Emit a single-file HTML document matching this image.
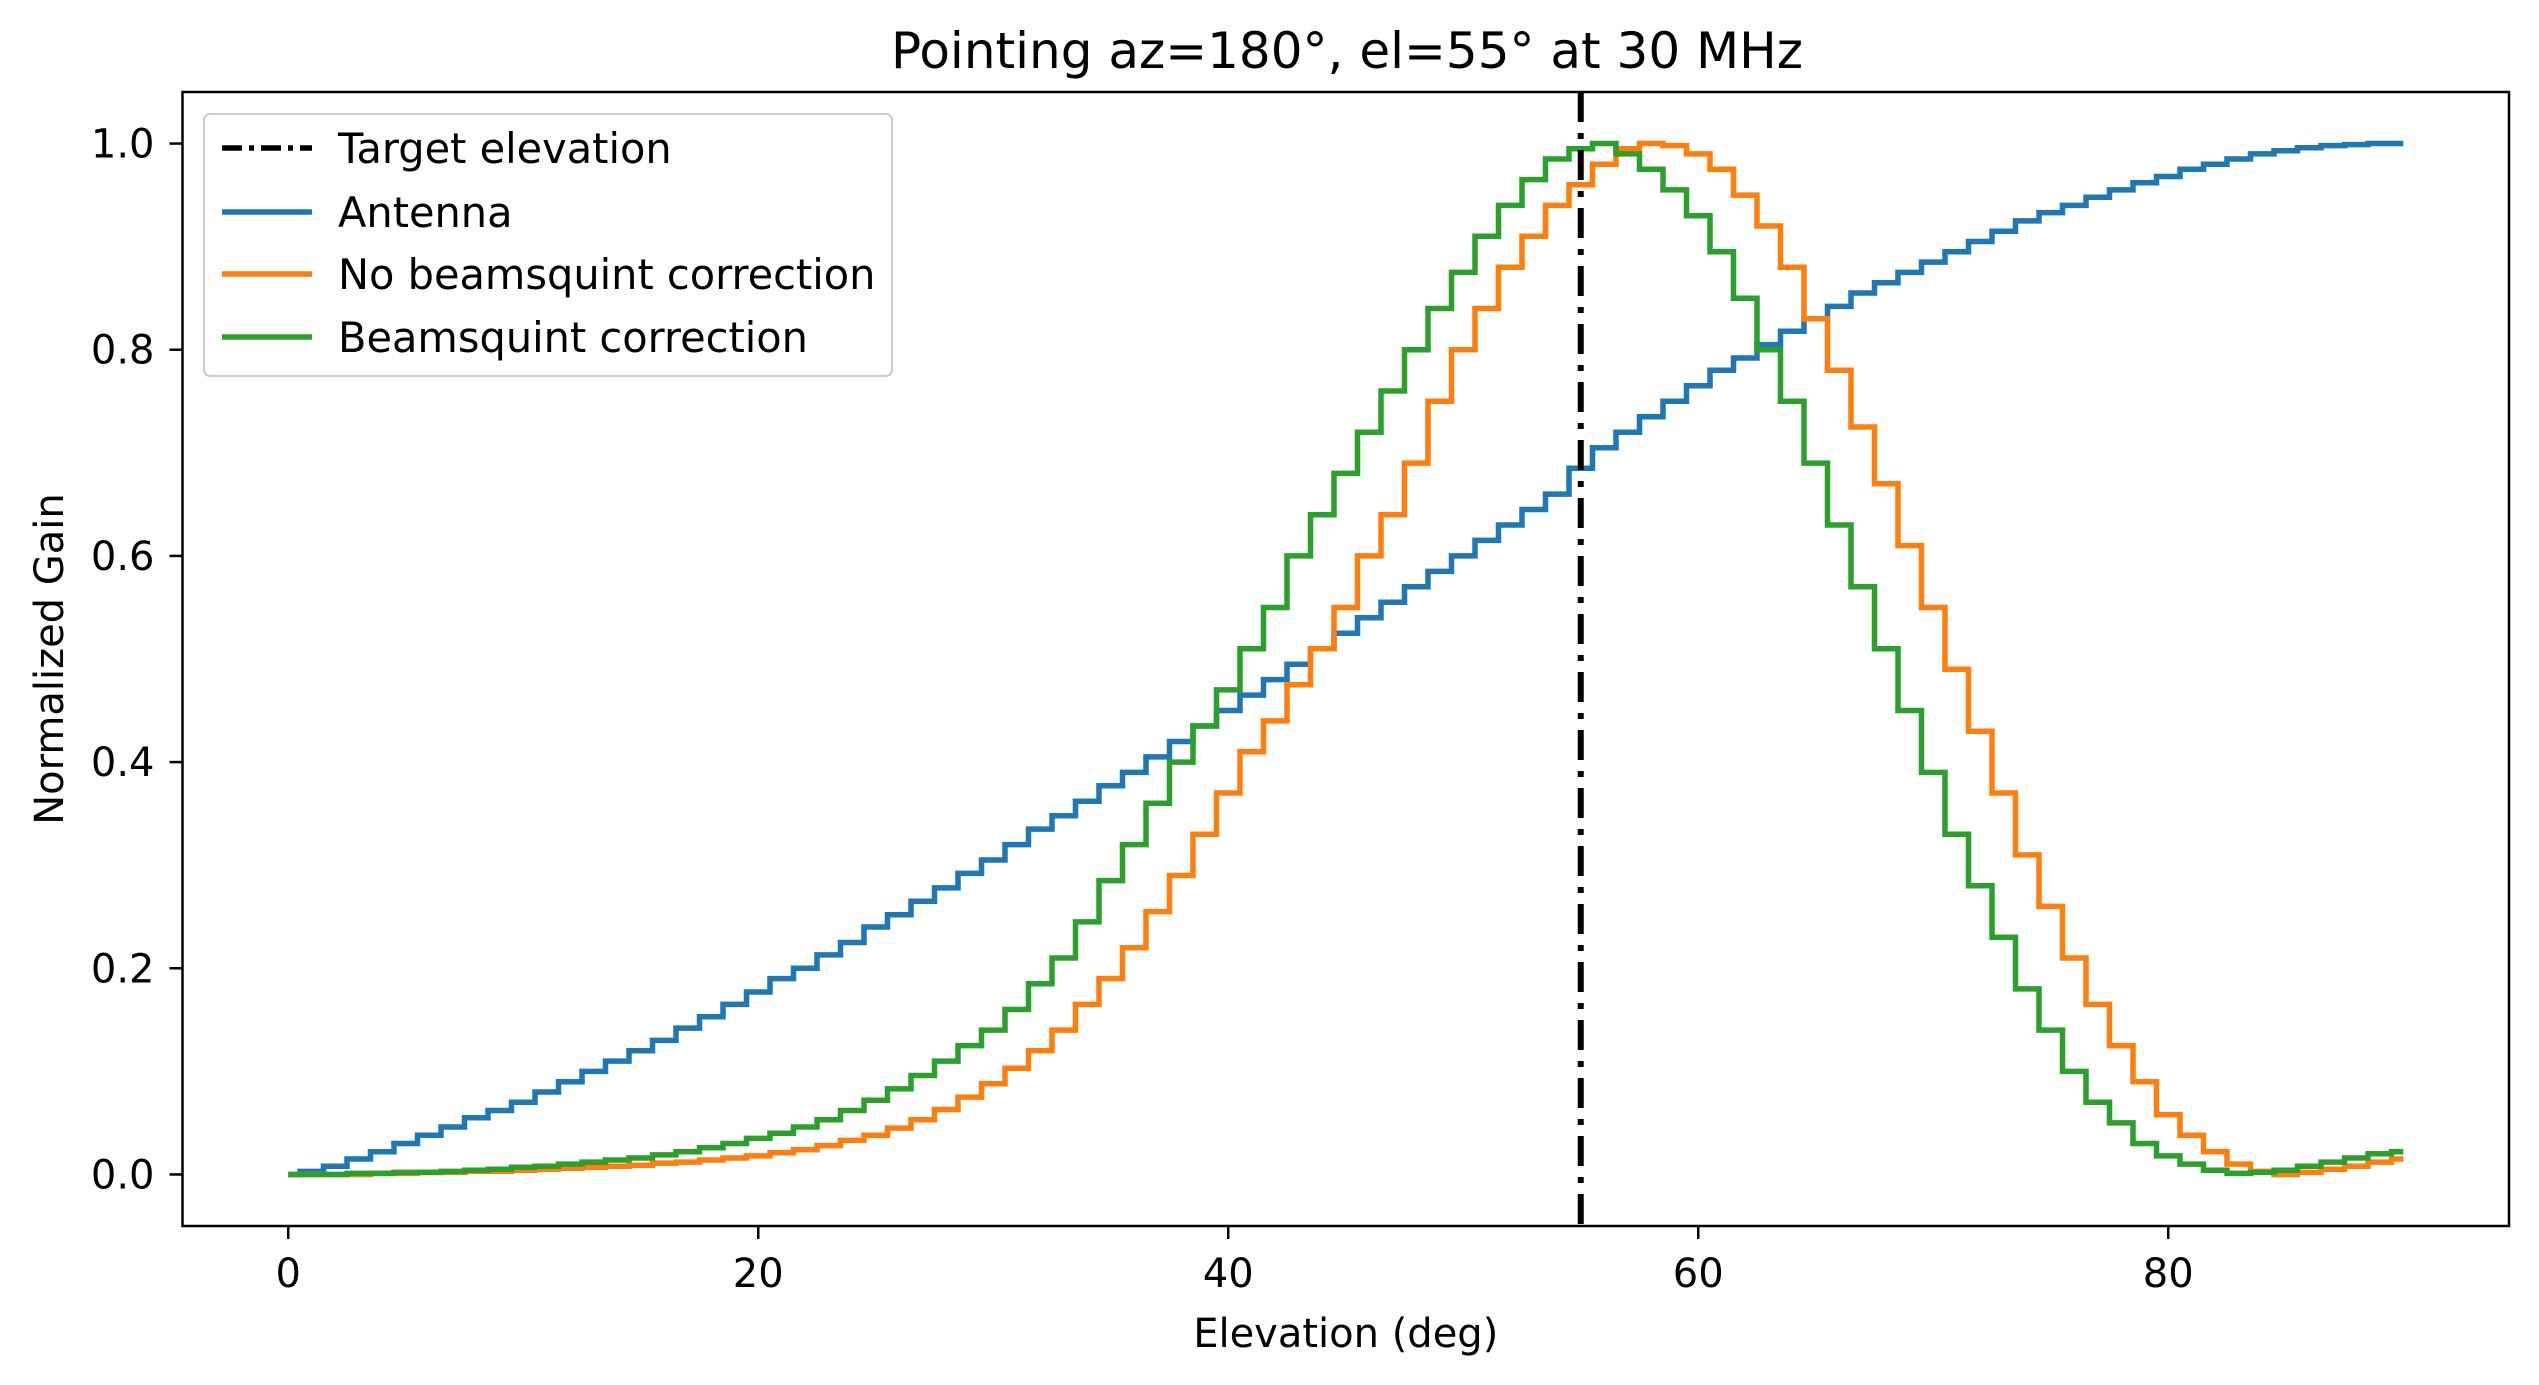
<!DOCTYPE html>
<html><head><meta charset="utf-8"><style>
html,body{margin:0;padding:0;background:#fff}
svg{display:block;font-family:"DejaVu Sans","Liberation Sans",sans-serif}
</style></head><body>
<svg id="chart" width="2539" height="1385" viewBox="0 0 2539 1385">
<rect width="2539" height="1385" fill="#fff"/>
<text x="1347" y="68" font-size="50" text-anchor="middle">Pointing az=180°, el=55° at 30 MHz</text>
<g id="plot"></g>
</svg>
<script>
const xTicks=[0,20,40,60,80];
const yTicks=[0.0,0.2,0.4,0.6,0.8,1.0];
const targetElevation=55;
const antenna=[0,0.003,0.008,0.015,0.022,0.03,0.038,0.046,0.055,0.062,0.07,0.08,0.09,0.1,0.11,0.12,0.13,0.142,0.153,0.165,0.177,0.19,0.2,0.213,0.225,0.24,0.252,0.265,0.278,0.292,0.305,0.32,0.335,0.348,0.362,0.377,0.39,0.405,0.42,0.435,0.45,0.465,0.48,0.495,0.51,0.525,0.54,0.555,0.57,0.585,0.6,0.615,0.63,0.645,0.66,0.685,0.705,0.72,0.735,0.75,0.765,0.78,0.792,0.805,0.818,0.83,0.842,0.855,0.865,0.875,0.885,0.895,0.905,0.915,0.925,0.933,0.94,0.948,0.955,0.962,0.968,0.975,0.98,0.985,0.99,0.993,0.996,0.998,0.999,1.0,1.0];
const noCorrection=[0,0,0,0,0.001,0.001,0.002,0.002,0.003,0.003,0.004,0.005,0.006,0.007,0.008,0.009,0.011,0.012,0.014,0.016,0.018,0.021,0.024,0.028,0.033,0.038,0.045,0.053,0.063,0.075,0.088,0.103,0.12,0.14,0.165,0.19,0.22,0.255,0.29,0.33,0.37,0.41,0.44,0.475,0.51,0.55,0.6,0.64,0.69,0.75,0.8,0.84,0.88,0.91,0.94,0.96,0.98,0.995,1.0,0.998,0.99,0.975,0.95,0.92,0.88,0.83,0.78,0.725,0.67,0.61,0.55,0.49,0.43,0.37,0.31,0.26,0.21,0.165,0.125,0.09,0.058,0.038,0.022,0.01,0.003,0.0,0.002,0.005,0.008,0.012,0.015];
const withCorrection=[0,0,0,0.001,0.001,0.002,0.002,0.003,0.004,0.005,0.007,0.008,0.01,0.012,0.014,0.016,0.019,0.022,0.026,0.03,0.035,0.04,0.046,0.053,0.062,0.072,0.083,0.096,0.11,0.125,0.14,0.16,0.185,0.21,0.245,0.285,0.32,0.36,0.4,0.435,0.47,0.51,0.55,0.6,0.64,0.68,0.72,0.76,0.8,0.84,0.875,0.91,0.94,0.965,0.985,0.995,1.0,0.99,0.975,0.955,0.93,0.895,0.85,0.8,0.75,0.69,0.63,0.57,0.51,0.45,0.39,0.33,0.28,0.23,0.18,0.14,0.1,0.07,0.05,0.03,0.018,0.01,0.004,0.001,0.002,0.004,0.008,0.012,0.016,0.02,0.022];

const L=182.5,R=2509,T=92,B=1226;
const xs=v=>L+(v+4.5)/99*(R-L);
const ys=v=>B-(v+0.05)/1.1*(B-T);
const NS="http://www.w3.org/2000/svg";
const g=document.getElementById('plot');
function mk(tag,attrs,parent){const e=document.createElementNS(NS,tag);for(const k in attrs)e.setAttribute(k,attrs[k]);(parent||g).appendChild(e);return e;}
function stepPath(arr){let d='';arr.forEach((v,i)=>{const x0=xs(i-0.5<0?0:i-0.5),x1=xs(i+0.5>arr.length-1?arr.length-1:i+0.5),y=ys(v);d+=(i===0?'M':'L')+x0.toFixed(1)+','+y.toFixed(1)+'L'+x1.toFixed(1)+','+y.toFixed(1);});return d;}

const blue=mk('path',{d:stepPath(antenna),fill:'none',stroke:'#1f77b4','stroke-width':5.5});


const orange=mk('path',{d:stepPath(noCorrection),fill:'none',stroke:'#ff7f0e','stroke-width':5.5});


const green=mk('path',{d:stepPath(withCorrection),fill:'none',stroke:'#2ca02c','stroke-width':5.5});


const vl=mk('line',{x1:xs(targetElevation),x2:xs(targetElevation),y1:T,y2:B,stroke:'#000','stroke-width':6,'stroke-dasharray':'30 11 6 11'});



const frame=mk('rect',{x:L,y:T,width:R-L,height:B-T,fill:'none',stroke:'#000','stroke-width':2.5});



xTicks.forEach(t=>{
  const tk=mk('line',{x1:xs(t),x2:xs(t),y1:B,y2:B+13,stroke:'#000','stroke-width':2.5});
  
  
  const tx=mk('text',{x:xs(t),y:1287,'font-size':40,'text-anchor':'middle'});
  tx.textContent=String(t);
  
  
});
yTicks.forEach(t=>{
  const tk=mk('line',{x1:L-13,x2:L,y1:ys(t),y2:ys(t),stroke:'#000','stroke-width':2.5});
  
  
  const tx=mk('text',{x:L-28,y:ys(t)+14,'font-size':40,'text-anchor':'end'});
  tx.textContent=t.toFixed(1);
  
  
});
const xl=mk('text',{x:(L+R)/2,y:1347,'font-size':40,'text-anchor':'middle'});
xl.textContent='Elevation (deg)';


const yl=mk('text',{x:0,y:0,'font-size':40,'text-anchor':'middle',transform:'translate(63,659) rotate(-90)'});
yl.textContent='Normalized Gain';



const lg=mk('g',{});


mk('rect',{x:204,y:114,width:688,height:262,rx:6,fill:'#fff','fill-opacity':0.8,stroke:'#ccc','stroke-width':2},lg);
const entries=[['Target elevation','#000','30 11 6 11'],['Antenna','#1f77b4',''],['No beamsquint correction','#ff7f0e',''],['Beamsquint correction','#2ca02c','']];
const ey=[148,212,274,337];
entries.forEach((e,i)=>{
  const row=mk('g',{},lg);
  
  
  const a={x1:222,x2:312,y1:ey[i],y2:ey[i],stroke:e[1],'stroke-width':5.5};
  if(e[2])a['stroke-dasharray']='20 7 5 7';
  mk('line',a,row);
  const t=mk('text',{x:338,y:ey[i]+15,'font-size':41.5},row);
  t.textContent=e[0];
});
</script>
</body></html>
